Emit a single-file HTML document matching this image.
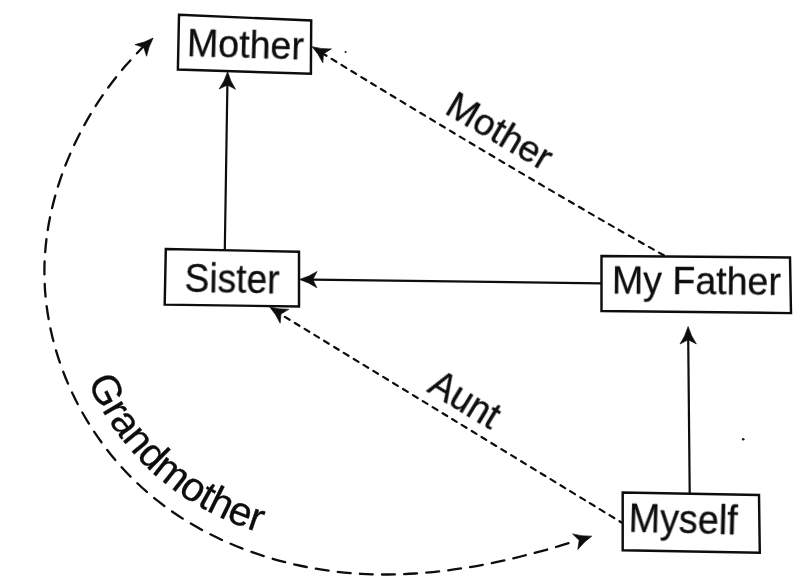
<!DOCTYPE html>
<html lang="en">
<head>
<meta charset="utf-8">
<title>Family relation diagram</title>
<style>
  html, body { margin: 0; padding: 0; background: #fff; }
  body { width: 803px; height: 587px; overflow: hidden; }
  svg { display: block; }
  text { font-family: "Liberation Sans", Arial, Helvetica, sans-serif; fill: #0d0d0d; stroke: #0d0d0d; stroke-width: 0.3; stroke-linejoin: round; }
  .box { fill: none; stroke: #0d0d0d; stroke-width: 2.45; stroke-linejoin: miter; }
  .ln { fill: none; stroke: #0d0d0d; stroke-width: 2.2; }
  .dash { fill: none; stroke: #0d0d0d; stroke-width: 2.2; stroke-linecap: round; stroke-dasharray: 5.5 6.02; }
  .arc { fill: none; stroke: #0d0d0d; stroke-width: 2.3; stroke-linecap: round; }
  .head { fill: #0d0d0d; stroke: #0d0d0d; stroke-width: 0.6; stroke-linejoin: miter; }
  .labels { opacity: 0.999; }
</style>
</head>
<body>
<svg width="803" height="587" viewBox="0 0 803 587">
  <defs>
    <path id="ah" d="M0.5 0 Q-9 -2.8 -17 -8.2 L-12.8 0 L-17 8.2 Q-9 2.8 0.5 0 Z"/>
    <path id="gm" d="M87.8 381.8 C88.7 383.7 91.3 389.6 93.1 393.4 C95.0 397.3 97.0 401.1 99.1 404.8 C101.1 408.5 103.3 412.2 105.5 415.9 C107.8 419.5 110.2 423.2 112.6 426.8 C115.0 430.3 117.5 433.8 120.1 437.2 C122.7 440.6 125.3 443.9 128.1 447.2 C130.8 450.5 133.7 453.8 136.6 456.9 C139.5 460.1 142.5 463.1 145.5 466.1 C148.5 469.0 151.6 471.9 154.8 474.7 C158.0 477.6 161.2 480.3 164.5 482.9 C167.8 485.6 171.3 488.2 174.7 490.7 C178.2 493.2 181.7 495.6 185.2 498.0 C188.8 500.3 192.4 502.5 196.1 504.7 C199.7 506.9 203.6 509.0 207.3 511.0 C211.1 513.0 214.9 514.9 218.8 516.8 C222.7 518.6 226.6 520.4 230.5 522.1 C234.4 523.7 238.4 525.3 242.5 526.8 C246.5 528.4 250.7 529.8 254.8 531.2 C258.9 532.5 263.0 533.8 267.1 535.0 C271.3 536.1 275.4 537.2 279.6 538.3 C283.8 539.3 290.3 540.6 292.4 541.1"/>
  </defs>
  <rect width="803" height="587" fill="#fff"/>

  <!-- boxes -->
  <polygon class="box" points="179,14.8 311.2,20.5 310.9,73.8 177.9,69.5"/>
  <polygon class="box" points="165.8,249 299,251.8 299,306.5 164.7,304.6"/>
  <polygon class="box" points="601.5,256 790,257.5 791,313.1 601.5,311"/>
  <polygon class="box" points="622.7,492.5 759,495 759.8,552.8 622.7,550.2"/>

  <!-- scan specks -->
  <circle cx="345.6" cy="52" r="1.1" fill="#1a1a1a"/>
  <circle cx="743.2" cy="439.3" r="1.3" fill="#1a1a1a"/>

  <!-- solid connectors -->
  <line class="ln" x1="224.8" y1="250" x2="227.4" y2="84"/>
  <use href="#ah" class="head" transform="translate(227.6,72.2) rotate(-89)"/>
  <line class="ln" x1="601" y1="283.4" x2="312" y2="279.6"/>
  <use href="#ah" class="head" transform="translate(300,279.4) rotate(180.8)"/>
  <line class="ln" x1="689.7" y1="493" x2="688.2" y2="338"/>
  <use href="#ah" class="head" transform="translate(688.1,327) rotate(-90.3)"/>

  <!-- dashed connectors -->
  <path class="dash" style="stroke-dashoffset:10.6" d="M664.5 255.7 C656.3 251.1 631.7 237.2 615.3 227.8 C599.0 218.5 582.7 209.0 566.4 199.5 C550.1 190.0 533.9 180.5 517.6 170.9 C501.4 161.3 485.2 151.7 469.0 142.1 C452.9 132.4 436.7 122.7 420.6 113.0 C404.4 103.2 388.3 93.5 372.2 83.7 C356.1 73.9 332.0 59.1 324.0 54.2"/>
  <use href="#ah" class="head" transform="translate(312.6,47) rotate(211.5)"/>
  <path class="dash" style="stroke-dashoffset:2.9" d="M621.5 522.5 C593.2 505.2 508.3 453.4 451.7 418.8 C395.2 384.2 310.3 332.4 282.0 315.1"/>
  <use href="#ah" class="head" transform="translate(270.1,307.2) rotate(212)"/>

  <!-- grandmother arc -->
  <path class="arc" style="stroke-dasharray:12.90 9.40 12.90 9.40 12.90 9.40 12.90 9.40 12.90 9.40 12.90 9.40 12.90 9.40 12.90 9.40 12.90 9.40 12.90 9.40 12.90 9.40 12.90 9.41 12.90 9.65 12.90 9.65 12.90 9.65 12.90 9.65 12.90 9.65 12.90 9.65 12.90 9.58 12.90 9.58 12.90 9.58 12.90 9.58 12.90 9.51 12.90 9.43 12.90 9.43 12.90 9.43 12.90 9.43 12.90 9.43 12.90 9.43 12.90 9.30 12.90 9.25 12.90 9.25 12.90 9.25 12.90 9.25 12.90 9.25 12.90 9.25 12.90 9.18 12.90 9.18 12.90 9.18 12.90 9.18 12.90 9.18 12.90 9.18 12.90 9.24 12.90 9.40;stroke-dashoffset:2.42" d="M144.1 45.8 C141.0 49.1 131.6 58.7 125.7 65.6 C119.8 72.4 114.2 79.5 108.8 86.8 C103.4 94.1 98.3 101.7 93.5 109.4 C88.7 117.1 84.2 125.1 80.0 133.2 C75.8 141.3 71.9 149.6 68.4 158.1 C64.8 166.5 61.6 175.1 58.8 183.8 C56.0 192.5 53.6 201.3 51.6 210.2 C49.5 219.1 47.9 228.1 46.7 237.0 C45.6 246.0 44.8 255.1 44.5 264.2 C44.3 273.2 44.5 282.3 45.1 291.3 C45.8 300.3 46.9 309.3 48.5 318.2 C50.0 327.1 52.0 336.0 54.4 344.8 C56.8 353.5 59.6 362.2 62.8 370.7 C66.0 379.2 69.6 387.6 73.6 395.8 C77.5 404.0 81.9 412.0 86.6 419.8 C91.3 427.6 96.3 435.3 101.7 442.6 C107.0 449.9 112.7 457.1 118.7 463.9 C124.7 470.7 131.0 477.3 137.6 483.5 C144.1 489.7 151.0 495.6 158.1 501.2 C165.2 506.8 172.6 512.0 180.2 517.0 C187.8 521.9 195.6 526.5 203.6 530.8 C211.6 535.1 219.8 539.1 228.2 542.7 C236.5 546.4 245.0 549.7 253.6 552.7 C262.3 555.7 271.0 558.4 279.8 560.8 C288.7 563.2 297.6 565.3 306.6 567.0 C315.5 568.8 324.6 570.2 333.7 571.4 C342.7 572.5 351.8 573.3 360.9 573.8 C369.9 574.4 379.0 574.6 388.1 574.5 C397.1 574.5 406.2 574.1 415.2 573.5 C424.3 572.9 433.3 572.1 442.3 571.0 C451.3 570.0 460.3 568.6 469.3 567.2 C478.2 565.7 487.2 564.0 496.1 562.1 C505.0 560.2 513.8 558.2 522.7 556.0 C531.5 553.8 540.3 551.4 549.1 549.0 C557.8 546.5 570.9 542.5 575.2 541.2"/>
  <use href="#ah" class="head" transform="translate(591.3,536.3) rotate(-18.5)"/>
  <use href="#ah" class="head" transform="translate(152.8,38.4) rotate(-45)"/>

  <g class="labels">
  <!-- box labels -->
  <text font-size="39.6" transform="translate(186.6,56) rotate(1.7)" textLength="117" lengthAdjust="spacingAndGlyphs">Mother</text>
  <text font-size="39.8" transform="translate(184.4,291.8) rotate(1)" textLength="95" lengthAdjust="spacingAndGlyphs">Sister</text>
  <text font-size="39.3" transform="translate(611.8,293.4) rotate(0.5)" textLength="169" lengthAdjust="spacingAndGlyphs">My Father</text>
  <text font-size="39.8" transform="translate(628.3,531.6) rotate(1.5)" textLength="109" lengthAdjust="spacingAndGlyphs">Myself</text>

  <!-- edge labels -->
  <text font-size="37.5" style="stroke-width:0.35" transform="translate(443.3,112.6) rotate(30.5)" textLength="116" lengthAdjust="spacingAndGlyphs">Mother</text>
  <text font-size="39.6" style="stroke-width:0.4" transform="translate(426,390.9) rotate(31.3)" textLength="75.5" lengthAdjust="spacingAndGlyphs">Aunt</text>
  <text font-size="40.6" style="stroke-width:0.3;letter-spacing:-0.35px"><textPath href="#gm">Grandmother</textPath></text>
  </g>
</svg>
</body>
</html>
